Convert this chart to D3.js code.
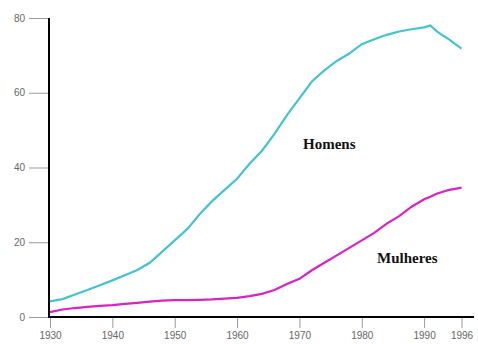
<!DOCTYPE html>
<html><head><meta charset="utf-8">
<script src="https://cdn.jsdelivr.net/npm/d3@7"></script>
<style>body{margin:0;background:#fff}svg{display:block}</style>
</head><body>
<script>
const years = [1930,1932,1934,1936,1938,1940,1942,1944,1946,1948,1950,1952,1954,1956,1958,1960,1962,1964,1966,1968,1970,1972,1974,1976,1978,1980,1982,1984,1986,1988,1990,1991,1992,1993,1994,1995,1996];
const homens = [4.2,4.8,6.0,7.2,8.5,9.8,11.2,12.6,14.5,17.5,20.5,23.5,27.5,31.0,34.0,37.0,41.0,44.5,49.0,54.0,58.5,63.0,66.0,68.5,70.5,73.0,74.3,75.5,76.4,77.0,77.5,78.0,76.5,75.3,74.3,73.0,71.8];
const mulheres = [1.3,2.0,2.4,2.7,3.0,3.2,3.5,3.8,4.1,4.4,4.5,4.5,4.6,4.7,4.9,5.1,5.6,6.2,7.2,8.8,10.2,12.5,14.5,16.5,18.5,20.5,22.5,25.0,27.0,29.5,31.5,32.2,33.0,33.5,34.0,34.3,34.6];
const xTicks = [1930,1940,1950,1960,1970,1980,1990,1996];
const yTicks = [0,20,40,60,80];
const seriesLabels = ["Homens","Mulheres"];

const W=478,H=344;
const svg=d3.select("body").append("svg").attr("width",W).attr("height",H);
const x=d3.scaleLinear().domain([1930,1998]).range([50,474]);
const y=d3.scaleLinear().domain([0,80]).range([317,18]);

const ya=svg.append("g").attr("transform","translate(49,0)")
  .call(d3.axisLeft(y).tickValues(yTicks).tickSize(20).tickPadding(4).tickFormat(d3.format("d")));
ya.select(".domain").remove();
ya.selectAll("line").attr("stroke","#999");
ya.selectAll("text").attr("fill","#666").style("font-family","Liberation Sans, Arial, sans-serif").style("font-size","10px");

const xa=svg.append("g").attr("transform","translate(0,317)")
  .call(d3.axisBottom(x).tickValues(xTicks).tickSize(11).tickPadding(4).tickFormat(d3.format("d")));
xa.select(".domain").remove();
xa.selectAll("line").attr("stroke","#999");
xa.selectAll("text").attr("fill","#666").style("font-family","Liberation Sans, Arial, sans-serif").style("font-size","10px");

svg.append("line").attr("x1",49).attr("x2",49).attr("y1",y(80)).attr("y2",318).attr("stroke","#000").attr("stroke-width",2);
svg.append("line").attr("x1",48).attr("x2",x(1998)).attr("y1",317).attr("y2",317).attr("stroke","#000").attr("stroke-width",2);

const line=d3.line().x((d,i)=>x(years[i])).y(d=>y(d));
svg.append("path").datum(homens).attr("d",line).attr("fill","none").attr("stroke","#45c3cf").attr("stroke-width",2.2);
svg.append("path").datum(mulheres).attr("d",line).attr("fill","none").attr("stroke","#d822c2").attr("stroke-width",2.2);

svg.append("text").attr("x",303).attr("y",149).text(seriesLabels[0])
  .style("font-family","Liberation Serif, Times New Roman, serif").style("font-weight","bold").style("font-size","15px").attr("fill","#111");
svg.append("text").attr("x",377).attr("y",263).text(seriesLabels[1])
  .style("font-family","Liberation Serif, Times New Roman, serif").style("font-weight","bold").style("font-size","15px").attr("fill","#111");
</script>
</body></html>
